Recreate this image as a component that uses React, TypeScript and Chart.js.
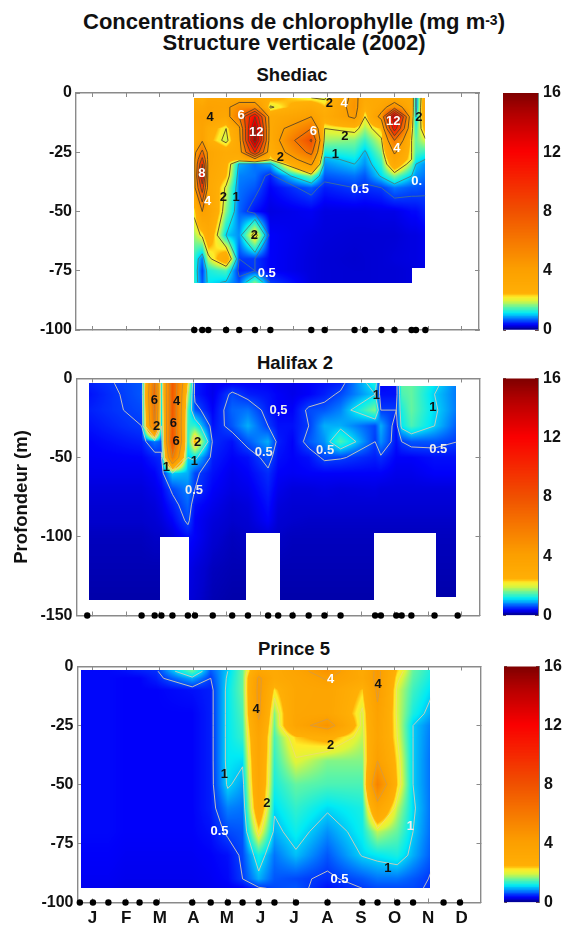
import React, { useEffect, useRef } from "react";
import { Chart, registerables } from "chart.js";
Chart.register(...registerables);

const FONT = "'Liberation Sans', Arial, sans-serif";
const monthLabels = ["J","F","M","A","M","J","J","A","S","O","N","D"];
const contourLevels = [0.5,1,2,4,6,8,10,12,14];
const colorbarTicks = [0,2,4,6,8,10,12,14,16];

// value -> colour stops of the colour bar
const cmapStops: number[][] = [
  [0,0,0,130],[0.15,0,0,205],[0.3,0,0,250],[0.7,0,115,255],[1.1,0,235,245],[1.5,100,245,160],[1.9,220,245,60],
  [2.2,255,235,40],[2.4,255,175,5],[4,252,160,0],[8,240,80,0],[12,250,0,0],[14.5,180,0,0],[16,125,0,0],
];

// ---- Shediac ----
const shediacMonths = [4.03,4.27,4.45,4.98,5.37,5.84,6.30,7.52,7.92,8.81,9.12,9.61,10.0,10.51,10.64,10.92];
const shediacDepths = [2,6,10,15,20,25,28,30,35,40,50,60,70,75,80];
const shediacValues = [
  [3.2,2.6,3.4,3.4,3.0,3.0,2.6,2.0,1.9,4.5,3.0,3.0,3.0,2.8,0.8,3.0],
  [3.4,3.4,3.8,3.6,5.0,5.0,1.9,3.0,2.4,4.6,2.6,3.4,5.0,2.8,0.8,3.2],
  [3.6,3.8,3.8,3.2,6.0,12,3.0,4.0,2.8,4.3,2.0,4.5,14,2.5,1.0,3.0],
  [3.2,3.6,2.8,2.0,3.6,14.5,3.0,6.0,2.0,2.2,1.7,2.4,11,2.2,1.3,2.6],
  [3.0,3.8,2.6,1.8,3.2,15,2.8,8.2,1.7,1.6,1.3,1.9,6.0,2.0,1.5,1.9],
  [3.4,6.5,3.4,2.8,3.0,10,2.6,6.5,1.2,1.3,0.95,1.6,4.2,2.0,1.4,1.3],
  [3.6,8.5,3.4,2.7,2.5,3.4,2.1,5.0,0.9,1.1,0.85,1.4,3.4,2.0,1.2,1.0],
  [3.6,10,3.4,2.6,0.9,0.7,0.9,4.2,0.8,1.0,0.8,1.3,3.0,1.6,1.0,0.8],
  [3.4,12,3.2,2.4,0.75,0.7,0.4,1.6,0.6,0.7,0.6,1.05,1.6,1.0,0.8,0.7],
  [3.4,9,3.2,1.9,0.7,0.6,0.3,0.6,0.4,0.5,0.45,0.5,0.7,0.6,0.6,0.55],
  [2.1,4.0,3.6,1.6,0.65,0.35,0.22,0.28,0.22,0.22,0.22,0.24,0.24,0.32,0.32,0.4],
  [1.7,2.1,3.0,1.0,0.8,2.3,0.3,0.22,0.2,0.18,0.18,0.18,0.18,0.22,0.22,0.26],
  [1.3,0.7,1.8,3.0,0.5,0.5,0.3,0.2,0.18,0.16,0.17,0.18,0.2,0.22,0.22,0.26],
  [1.3,0.5,1.2,1.4,0.4,0.5,0.3,0.2,0.18,0.17,0.17,0.18,0.18,0.2,0.22,0.22],
  [1.3,0.6,1.1,0.95,0.6,1.6,0.5,0.2,0.18,0.17,0.17,0.18,0.18,0.2,0.22,0.22],
];
const shediacExtent = [[4.03,10.51,2,80],[10.51,10.92,2,74]];
const shediacSamples = [4.03,4.27,4.45,4.98,5.37,5.84,6.30,7.52,7.92,8.81,9.12,9.61,10.0,10.51,10.64,10.92];
const shediacNotes: [number,number,string,string][] = [
  [4.5,10.4,"4","#111"],[5.43,9.4,"6","#fff"],[5.88,16.6,"12","#fff"],[7.58,16.2,"6","#fff"],[8.06,4.5,"2","#111"],
  [8.5,4.2,"4","#fff"],[8.52,18.5,"2","#111"],[8.24,26,"1","#111"],[6.6,27.2,"2","#111"],[9.96,12.2,"12","#fff"],
  [10.73,10.1,"2","#111"],[10.07,23.3,"4","#fff"],[10.66,37.2,"0.","#fff"],[8.97,40.6,"0.5","#fff"],[4.26,34,"8","#fff"],
  [4.43,45.9,"4","#fff"],[4.9,44.1,"2","#111"],[5.28,44.1,"1","#111"],[5.82,60,"2","#111"],[6.19,76.1,"0.5","#fff"],
];

// ---- Halifax 2 ----
const halifaxMonths = [0.84,2.46,2.85,3.05,3.38,3.84,4.05,4.58,5.16,5.63,6.23,6.53,6.96,7.44,7.91,8.39,9.42,9.59,10.05,10.21,10.5,11.19,11.88];
const halifaxDepths = [3,10,20,30,40,50,60,70,80,90,100,120,140];
const halifaxValues = [
  [.4,.6,6.5,1.2,7.5,2.2,.4,.25,.3,.3,.3,.25,.25,.3,.35,.4,1.2,.3,.35,1.5,1.5,1.1,.7],
  [.35,.6,7,1.2,7.5,1.8,.4,.25,.55,.4,.35,.3,.25,.3,.4,.55,1.0,.35,.35,1.4,1.5,1.0,.7],
  [.4,.55,6.5,1.1,7.5,1.4,.6,.3,.65,.7,.4,.3,.3,.55,.6,.75,1.6,.5,.5,1.2,1.5,1.05,.7],
  [.35,.5,6,1.0,7.5,1.3,1.3,.35,.6,.9,.5,.35,.35,.5,.9,.9,.55,.9,.35,1.1,1.4,1.0,.6],
  [.3,.4,.7,.6,8,1.2,2.5,.45,.35,.6,.9,.4,.3,.6,.8,1.4,.5,.8,.35,.5,.6,.6,.5],
  [.28,.3,.4,.45,6,1.0,1.1,.4,.3,.35,.6,.35,.3,.35,.55,.52,.4,.45,.3,.3,.3,.35,.35],
  [.25,.25,.3,.4,1.0,.9,.55,.35,.25,.3,.45,.3,.28,.3,.3,.3,.3,.3,.25,.25,.25,.3,.3],
  [.2,.2,.25,.3,.55,.75,.5,.3,.22,.25,.4,.25,.2,.2,.22,.2,.22,.2,.2,.2,.2,.2,.2],
  [.17,.17,.2,.25,.4,.65,.35,.25,.17,.2,.35,.2,.17,.17,.17,.17,.17,.17,.17,.17,.17,.17,.17],
  [.15,.15,.17,.2,.3,.55,.3,.2,.15,.17,.3,.17,.15,.14,.14,.14,.14,.14,.14,.14,.14,.14,.14],
  [.12,.12,.14,.14,.2,.35,.3,.17,.12,.14,.17,.14,.12,.12,.12,.12,.12,.12,.12,.12,.12,.12,.12],
  [.1,.1,.1,.1,.12,.25,.2,.12,.1,.1,.1,.1,.1,.1,.1,.1,.1,.1,.1,.1,.1,.1,.1],
  [.08,.08,.08,.08,.1,.2,.17,.1,.08,.08,.08,.08,.08,.08,.08,.08,.08,.08,.08,.08,.08,.08,.08],
];
const halifaxExtent = [[.89,3.0,2.7,140],[3.0,3.86,2.7,100],[3.86,5.56,2.7,140],[5.56,6.57,2.7,98],[6.57,9.4,2.7,140],[9.4,9.56,2.7,98],[9.56,11.23,4.6,98],[11.23,11.84,4.6,138]];
const halifaxSamples = [0.84,2.46,2.85,3.05,3.38,3.84,4.05,4.58,5.16,5.63,6.23,6.53,6.96,7.44,7.91,8.39,9.42,9.59,10.05,10.21,10.5,11.19,11.88];
const halifaxNotes: [number,number,string,string][] = [
  [2.84,14.1,"6","#111"],[3.5,14.7,"4","#111"],[2.91,30.1,"2","#111"],[3.41,28.4,"6","#111"],[3.49,40,"6","#111"],
  [4.13,40.4,"2","#111"],[4.03,52.7,"1","#111"],[3.2,56.5,"1","#111"],[4.02,70.6,"0.5","#eee"],[6.54,20,"0,5","#eee"],
  [6.1,47,"0.5","#eee"],[7.93,45.7,"0.5","#eee"],[9.46,10.5,"1","#111"],[11.14,18.3,"1","#111"],[11.3,44.7,"0.5","#eee"],
];

// ---- Prince 5 ----
const princeMonths = [0.62,1.01,1.47,1.98,2.40,2.90,3.97,4.52,5.03,5.47,5.95,6.42,7.06,8.0,9.04,9.49,10.08,10.55,11.46];
const princeDepths = [2,5,10,20,25,30,40,50,60,70,80,90,94];
const princeValues = [
  [.32,.32,.32,.35,.4,.45,1.5,.6,1.0,1.5,3.4,3,3.6,4.6,3,4.3,2.3,1.5,1.0],
  [.32,.32,.32,.3,.3,.4,.9,.5,1.05,1.5,4.2,3,3.4,4.1,3.1,4.3,2.1,1.45,.95],
  [.32,.32,.32,.3,.3,.3,.35,.4,1.1,1.5,4.3,2.2,3.3,3.5,2.3,4.2,1.9,1.35,.85],
  [.32,.32,.32,.3,.3,.3,.3,.4,1.1,1.4,4.2,1.6,3.4,3.5,1.9,3.8,1.9,1.2,.65],
  [.32,.32,.32,.3,.3,.3,.3,.4,1.1,1.35,3.8,1.5,3.5,4.6,1.85,3.7,1.95,1.0,.55],
  [.32,.32,.32,.3,.3,.3,.3,.4,1.1,1.3,3.5,1.4,2.3,2.6,1.8,3.6,2.0,1.0,.5],
  [.32,.32,.32,.3,.3,.3,.3,.4,1.1,1.05,3.4,1.3,1.95,1.6,1.6,4.0,2.2,1.0,.45],
  [.32,.32,.32,.3,.3,.3,.3,.4,1.05,.85,3.3,1.2,1.5,1.4,1.4,5.5,2.3,1.0,.45],
  [.32,.32,.32,.3,.3,.3,.3,.4,.75,.7,3,1.05,1.3,1.05,1.2,3.4,1.8,1.05,.42],
  [.32,.32,.32,.3,.3,.3,.3,.35,.55,.6,2.2,.9,1.15,.8,1.15,1.8,1.5,1.0,.42],
  [.3,.3,.3,.28,.28,.28,.28,.3,.35,.55,1.2,.7,.95,.6,1.02,1.1,1.2,.9,.4],
  [.28,.28,.28,.26,.26,.26,.26,.28,.32,.5,.9,.6,.55,.45,.6,.7,.7,.6,.4],
  [.26,.26,.26,.24,.24,.24,.24,.26,.28,.3,.45,.55,.6,.35,.5,.55,.55,.55,.4],
];
const princeExtent = [[.66,11.06,1.5,94]];
const princeSamples = [0.62,1.01,1.47,1.98,2.40,2.90,3.97,4.52,5.03,5.47,5.95,6.42,7.06,8.0,9.04,9.49,10.08,10.55,11.46,11.95];
const princeNotes: [number,number,string,string][] = [
  [5.87,18.1,"4","#111"],[8.09,5.4,"4","#fff"],[9.51,7.8,"4","#111"],[8.09,33.6,"2","#111"],[4.93,45.6,"1","#111"],
  [6.19,58,"2","#111"],[4.78,70,"0.5","#fff"],[9.8,85.5,"1","#111"],[8.36,90.4,"0.5","#fff"],[10.47,67.8,"1","#eee"],
];

const lut = (() => {
  const out = new Uint8ClampedArray(4096 * 3);
  for (let i = 0; i < 4096; i++) {
    const v = (i / 4095) * 16;
    let k = 0;
    while (k < cmapStops.length - 2 && v > cmapStops[k + 1][0]) k++;
    const a = cmapStops[k], b = cmapStops[k + 1];
    const t = Math.min(1, Math.max(0, (v - a[0]) / (b[0] - a[0])));
    for (let c = 0; c < 3; c++) out[i * 3 + c] = a[c + 1] + (b[c + 1] - a[c + 1]) * t;
  }
  return out;
})();
const cssColor = (v: number) => {
  const i = Math.round((v / 16) * 4095) * 3;
  return `rgb(${lut[i]},${lut[i + 1]},${lut[i + 2]})`;
};

function locate(arr: number[], v: number) {
  let i = 0;
  while (i < arr.length - 2 && v > arr[i + 1]) i++;
  const t = (v - arr[i]) / (arr[i + 1] - arr[i]);
  return [i, Math.min(1, Math.max(0, t))];
}

const fieldPlugin = (cols: number[], rows: number[], grid: number[][], extent: number[][], lineColor: (l: number) => string, notes: [number,number,string,string][]) => ({
  id: "field",
  beforeDatasetsDraw(chart: any) {
    const { ctx, chartArea: ca, scales } = chart;
    const sx = scales.x, sy = scales.y;
    const x0 = Math.floor(ca.left), y0 = Math.floor(ca.top);
    const w = Math.ceil(ca.right) - x0, h = Math.ceil(ca.bottom) - y0;
    const off = document.createElement("canvas");
    off.width = w; off.height = h;
    const octx = off.getContext("2d")!;
    const img = octx.createImageData(w, h);
    for (let py = 0; py < h; py++) {
      const d = -sy.getValueForPixel(y0 + py + 0.5);
      const [r, tr] = locate(rows, d);
      for (let px = 0; px < w; px++) {
        const m = sx.getValueForPixel(x0 + px + 0.5);
        const seg = extent.find((e) => m >= e[0] && m < e[1] && d >= e[2] && d <= e[3]);
        if (!seg) continue;
        const [c, tc] = locate(cols, m);
        const v = (grid[r][c] * (1 - tc) + grid[r][c + 1] * tc) * (1 - tr) + (grid[r + 1][c] * (1 - tc) + grid[r + 1][c + 1] * tc) * tr;
        const i = Math.round((Math.min(16, Math.max(0, v)) / 16) * 4095) * 3;
        const o = (py * w + px) * 4;
        img.data[o] = lut[i]; img.data[o + 1] = lut[i + 1]; img.data[o + 2] = lut[i + 2]; img.data[o + 3] = 255;
      }
    }
    octx.putImageData(img, 0, 0);
    ctx.drawImage(off, x0, y0);

    // contour lines, clipped to the sampled extent
    ctx.save();
    ctx.beginPath();
    extent.forEach((e) => {
      const l = sx.getPixelForValue(e[0]), rr = sx.getPixelForValue(e[1]);
      const t = sy.getPixelForValue(-e[2]), b = sy.getPixelForValue(-e[3]);
      ctx.rect(l, t, rr - l, b - t);
    });
    ctx.clip();
    ctx.lineWidth = 0.9;
    const P = (m: number, d: number) => [sx.getPixelForValue(m), sy.getPixelForValue(-d)];
    contourLevels.forEach((lev) => {
      ctx.strokeStyle = lineColor(lev);
      ctx.beginPath();
      for (let r = 0; r < rows.length - 1; r++) for (let c = 0; c < cols.length - 1; c++) {
        const a = grid[r][c], b = grid[r][c + 1], e = grid[r + 1][c + 1], f = grid[r + 1][c];
        const pts: number[][] = [];
        if ((a < lev) !== (b < lev)) pts.push(P(cols[c] + ((lev - a) / (b - a)) * (cols[c + 1] - cols[c]), rows[r]));
        if ((b < lev) !== (e < lev)) pts.push(P(cols[c + 1], rows[r] + ((lev - b) / (e - b)) * (rows[r + 1] - rows[r])));
        if ((f < lev) !== (e < lev)) pts.push(P(cols[c] + ((lev - f) / (e - f)) * (cols[c + 1] - cols[c]), rows[r + 1]));
        if ((a < lev) !== (f < lev)) pts.push(P(cols[c], rows[r] + ((lev - a) / (f - a)) * (rows[r + 1] - rows[r])));
        for (let k = 0; k + 1 < pts.length; k += 2) {
          ctx.moveTo(pts[k][0], pts[k][1]);
          ctx.lineTo(pts[k + 1][0], pts[k + 1][1]);
        }
      }
      ctx.stroke();
    });
    ctx.restore();

    ctx.save();
    ctx.font = `bold 13px ${FONT}`;
    ctx.textAlign = "center";
    ctx.textBaseline = "middle";
    notes.forEach(([m, d, t, col]) => {
      ctx.fillStyle = col;
      ctx.fillText(t, sx.getPixelForValue(m), sy.getPixelForValue(-d));
    });
    ctx.restore();
  },
});

const AXIS = "#8a8a8a";
const tickFont = { family: FONT, size: 16, weight: "bold" as const };

function PanelChart(props: any) {
  const { left, right, top, bottom, canvasTop, canvasH, yMin, yTicks, xMin, xMax, cols, rows, grid, extent, samples, notes, lineColor, showMonths, yTitle } = props;
  const ref = useRef<HTMLCanvasElement>(null);
  useEffect(() => {
    const W = 500;
    const monthsAxis = (axis: any) => { axis.ticks = monthLabels.map((_, i) => ({ value: i + 1 })); };
    const depthAxis = (axis: any) => { axis.ticks = yTicks.map((v: number) => ({ value: v })); };
    const base = { border: { color: AXIS, width: 1.4 }, grid: { drawOnChartArea: false, color: AXIS, tickLength: -4, tickWidth: 1 } };
    const fitH = (h: number) => (s: any) => { s.height = h; s.paddingLeft = 0; s.paddingRight = 0; };
    const fitW = (w: number) => (s: any) => { s.width = w; s.paddingTop = 0; s.paddingBottom = 0; };
    const chart = new Chart(ref.current!, {
      type: "scatter",
      data: { datasets: [{ data: samples.map((m: number) => ({ x: m, y: yMin })), pointRadius: 3.2, pointBackgroundColor: "#000", pointBorderWidth: 0, clip: false, showLine: false } as any] },
      options: {
        responsive: false, animation: false,
        layout: { padding: 0 },
        plugins: { legend: { display: false }, tooltip: { enabled: false } },
        scales: {
          x: { type: "linear", position: "bottom", min: xMin, max: xMax, ...base, afterBuildTicks: monthsAxis,
            afterFit: fitH(canvasH - (bottom - canvasTop)),
            ticks: { display: showMonths, autoSkip: false, maxRotation: 0, padding: 10, font: { ...tickFont, size: 17 }, color: "#111", callback: (_: any, i: number) => monthLabels[i] } },
          xTop: { type: "linear", position: "top", min: xMin, max: xMax, ...base, afterBuildTicks: monthsAxis,
            afterFit: fitH(top - canvasTop), ticks: { display: false } },
          y: { type: "linear", position: "left", min: yMin, max: 0, ...base, afterBuildTicks: depthAxis,
            afterFit: fitW(left),
            title: yTitle ? { display: true, text: yTitle, color: "#111", font: { family: FONT, size: 18.5, weight: "bold" }, padding: { top: 11, bottom: 0 } } : { display: false },
            ticks: { autoSkip: false, padding: 8, font: tickFont, color: "#111", callback: (v: any) => String(v) } },
          yRight: { type: "linear", position: "right", min: yMin, max: 0, ...base, afterBuildTicks: depthAxis,
            afterFit: fitW(W - right), ticks: { display: false } },
        },
      } as any,
      plugins: [fieldPlugin(cols, rows, grid, extent, lineColor, notes)],
    });
    return () => chart.destroy();
  }, []);
  return <canvas ref={ref} width={500} height={canvasH} style={{ position: "absolute", left: 0, top: canvasTop }} />;
}

function ColorBar({ top, bottom, left, right, canvasTop, canvasH }: any) {
  const ref = useRef<HTMLCanvasElement>(null);
  useEffect(() => {
    const canvasLeft = 490, W = 73, step = 0.1;
    const slices: number[] = [];
    for (let v = 0; v < 16 - 1e-6; v += step) slices.push(v);
    const ticksFn = (axis: any) => { axis.ticks = colorbarTicks.map((v) => ({ value: v })); };
    const g = { drawOnChartArea: false, color: "#6a4a4a", tickLength: -3 };
    const fitW = (w: number) => (s: any) => { s.width = w; s.paddingTop = 0; s.paddingBottom = 0; };
    const chart = new Chart(ref.current!, {
      type: "bar",
      data: {
        labels: ["c"],
        datasets: slices.map((v) => ({ data: [[v, v + step + 0.03]], backgroundColor: cssColor(v + step / 2), barPercentage: 1, categoryPercentage: 1, borderWidth: 0, grouped: false })) as any,
      },
      options: {
        responsive: false, animation: false, layout: { padding: { top: top - canvasTop, bottom: canvasTop + canvasH - bottom } },
        plugins: { legend: { display: false }, tooltip: { enabled: false } },
        scales: {
          x: { display: false, offset: true, grid: { offset: true } },
          y: { type: "linear", position: "right", min: 0, max: 16, afterBuildTicks: ticksFn, grid: g, border: { color: "#777", width: 1 },
            afterFit: fitW(canvasLeft + W - right),
            ticks: { autoSkip: false, padding: 8, font: { ...tickFont, size: 16 }, color: "#111", callback: (v: any) => (v % 4 === 0 ? String(v) : "") } },
          yL: { type: "linear", position: "left", min: 0, max: 16, afterBuildTicks: ticksFn, grid: g, border: { color: "#777", width: 1 },
            afterFit: fitW(left - canvasLeft), ticks: { display: false } },
        },
      } as any,
    });
    return () => chart.destroy();
  }, []);
  return <canvas ref={ref} width={73} height={canvasH} style={{ position: "absolute", left: 490, top: canvasTop }} />;
}

const lines1 = (l: number) => (l < 1 ? "#3f6f9a" : l < 2 ? "#4a7f80" : "#5a4426");
const lines2 = (l: number) => (l < 2 ? "#d2cdb8" : l < 4 ? "#d8cf9a" : "#c88a30");
const lines3 = (l: number) => (l < 2 ? "#d8cdb4" : l < 4 ? "#ecdf70" : "#d89a40");

const titleStyle = (x: number, y: number, size: number): React.CSSProperties => ({
  position: "absolute", left: x - 280, width: 560, top: y - size, height: size * 2, lineHeight: `${size * 2}px`,
  textAlign: "center", fontFamily: FONT, fontWeight: "bold", fontSize: size, color: "#111", whiteSpace: "nowrap",
});

export default function App() {
  useEffect(() => { document.body.style.margin = "0"; document.body.style.overflow = "hidden"; }, []);
  return (
    <div style={{ position: "relative", width: 563, height: 926, overflow: "hidden", background: "#fff", filter: "blur(0.55px)" }}>
      <div style={titleStyle(294, 20, 22)}>Concentrations de chlorophylle (mg m<span style={{ fontSize: 14, verticalAlign: 4 }}>-3</span>)</div>
      <div style={titleStyle(294, 43, 22)}>Structure verticale (2002)</div>
      <div style={titleStyle(292, 74, 18.5)}>Shediac</div>
      <div style={titleStyle(295, 362, 18.5)}>Halifax 2</div>
      <div style={titleStyle(294, 648, 18.5)}>Prince 5</div>
      <PanelChart left={76} right={479} top={93} bottom={330} canvasTop={80} canvasH={265} yMin={-100} yTicks={[0,-25,-50,-75,-100]} xMin={0.505} xMax={12.52}
        cols={shediacMonths} rows={shediacDepths} grid={shediacValues} extent={shediacExtent} samples={shediacSamples} notes={shediacNotes} lineColor={lines1} showMonths={false} />
      <PanelChart left={76.5} right={479.5} top={378.5} bottom={615.5} canvasTop={366} canvasH={265} yMin={-150} yTicks={[0,-50,-100,-150]} xMin={0.52} xMax={12.53}
        cols={halifaxMonths} rows={halifaxDepths} grid={halifaxValues} extent={halifaxExtent} samples={halifaxSamples} notes={halifaxNotes} lineColor={lines2} showMonths={false} yTitle="Profondeur (m)" />
      <PanelChart left={77.5} right={480.5} top={666.5} bottom={902.5} canvasTop={654} canvasH={272} yMin={-100} yTicks={[0,-25,-50,-75,-100]} xMin={0.55} xMax={12.56}
        cols={princeMonths} rows={princeDepths} grid={princeValues} extent={princeExtent} samples={princeSamples} notes={princeNotes} lineColor={lines3} showMonths={true} />
      <ColorBar left={503} right={538} top={93} bottom={330} canvasTop={80} canvasH={265} />
      <ColorBar left={503} right={538} top={378.5} bottom={615.5} canvasTop={366} canvasH={265} />
      <ColorBar left={504} right={539} top={666.5} bottom={902.5} canvasTop={654} canvasH={265} />
    </div>
  );
}
